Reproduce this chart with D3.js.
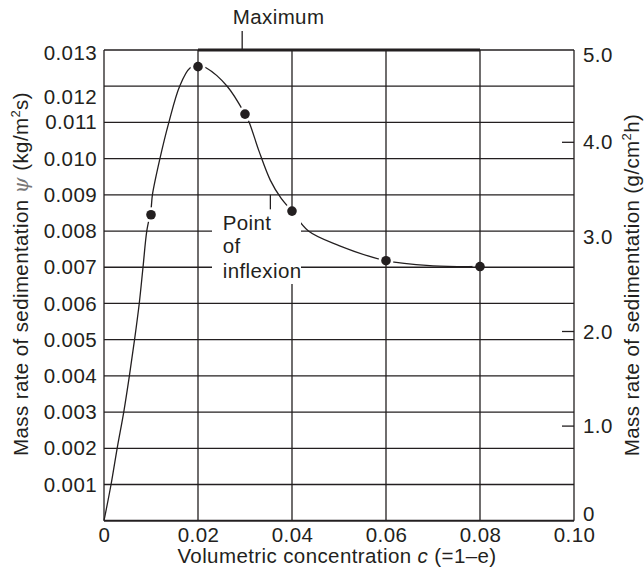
<!DOCTYPE html>
<html>
<head>
<meta charset="utf-8">
<script src="https://cdn.jsdelivr.net/npm/d3@7"></script>
<style>
  body { margin: 0; background: #fff; }
  svg { display: block; font-family: "Liberation Sans", Arial, Helvetica, sans-serif; }
  svg text { fill: #231f20; letter-spacing: 0.4px; }
</style>
</head>
<body>
<div id="chart"></div>
<script>
// measured points (dots)
var sampleC = [0.01, 0.02, 0.03, 0.04, 0.06, 0.08],
    samplePsi = [0.00845, 0.01254, 0.01123, 0.00855, 0.00718, 0.00702];

// the drawn curve
var curveC = [0, 0.0015, 0.0028, 0.0042, 0.0054, 0.0065, 0.0075, 0.0083, 0.0091, 0.0100,
              0.0103, 0.0119, 0.0138, 0.0161, 0.0183, 0.0202, 0.0217, 0.0262, 0.0300, 0.0309,
              0.0330, 0.0354, 0.0377, 0.0400, 0.0435, 0.0500, 0.0600, 0.0700, 0.0800],
    curvePsi = [0, 0.001, 0.002, 0.003, 0.004, 0.005, 0.006, 0.007, 0.008, 0.0086,
                0.009, 0.010, 0.011, 0.012, 0.0125, 0.01257, 0.01251, 0.0120, 0.01123, 0.0110,
                0.0102, 0.0094, 0.0089, 0.00855, 0.0080, 0.0076, 0.00718, 0.00704, 0.00702];

var xTicks = [0, 0.02, 0.04, 0.06, 0.08, 0.10],
    xTickLabels = ["0", "0.02", "0.04", "0.06", "0.08", "0.10"],
    yTicks = [0.001, 0.002, 0.003, 0.004, 0.005, 0.006, 0.007, 0.008, 0.009, 0.010, 0.011, 0.012, 0.013],
    yTickLabels = ["0.001", "0.002", "0.003", "0.004", "0.005", "0.006", "0.007", "0.008", "0.009",
                   "0.010", "0.011", "0.012", "0.013"],
    rightTicks = [0, 1, 2, 3, 4, 5],
    rightTickLabels = ["0", "1.0", "2.0", "3.0", "4.0", "5.0"],
    rightTickMarks = [1, 2, 4];

var INK = "#231f20",
    FONT = 20.5,
    margin = {top: 50, right: 70, bottom: 54, left: 104},
    width = 470,
    height = 470.7;

var x = d3.scaleLinear().domain([0, 0.10]).range([0, width]),
    y = d3.scaleLinear().domain([0, 0.013]).range([height, 0]),
    yR = d3.scaleLinear().domain([0, 5]).range([height, height - 473]);

var svg = d3.select("#chart").append("svg")
    .attr("width", 644)
    .attr("height", 575);

var g = svg.append("g")
    .attr("transform", "translate(" + margin.left + "," + margin.top + ")");

// Curve
var line = d3.line()
    .x(function(d) { return x(d[0]); })
    .y(function(d) { return y(d[1]); })
    .curve(d3.curveCatmullRom.alpha(0.5));

g.append("path")
  .datum(d3.zip(curveC, curvePsi))
  .attr("fill", "none")
  .attr("stroke", INK)
  .attr("stroke-width", 1.3)
  .attr("d", line);

// white gaps in the curve around each dot
g.selectAll(".halo")
  .data(d3.zip(sampleC, samplePsi))
  .join("circle")
    .attr("class", "halo")
    .attr("cx", function(d) { return x(d[0]); })
    .attr("cy", function(d) { return y(d[1]); })
    .attr("r", 7.5)
    .attr("fill", "#fff");

// Grid
g.selectAll(".hgrid")
  .data(yTicks)
  .join("line")
    .attr("class", "hgrid")
    .attr("x1", 0).attr("x2", width)
    .attr("y1", function(d) { return y(d); })
    .attr("y2", function(d) { return y(d); })
    .attr("stroke", INK)
    .attr("stroke-width", 1.3);

g.selectAll(".vgrid")
  .data(xTicks)
  .join("line")
    .attr("class", "vgrid")
    .attr("x1", function(d) { return x(d); })
    .attr("x2", function(d) { return x(d); })
    .attr("y1", 0).attr("y2", height)
    .attr("stroke", INK)
    .attr("stroke-width", 1.3);

// bottom border
g.append("line")
  .attr("x1", 0).attr("x2", width)
  .attr("y1", height).attr("y2", height)
  .attr("stroke", INK)
  .attr("stroke-width", 2);

// "Maximum" span on top border
g.append("line")
  .attr("x1", x(0.02)).attr("x2", x(0.08))
  .attr("y1", y(0.013)).attr("y2", y(0.013))
  .attr("stroke", INK)
  .attr("stroke-width", 3);

g.append("line")
  .attr("x1", x(0.0294)).attr("x2", x(0.0294))
  .attr("y1", y(0.013) - 19).attr("y2", y(0.013))
  .attr("stroke", INK)
  .attr("stroke-width", 1.3);

g.append("text")
  .attr("x", x(0.0274))
  .attr("y", y(0.013) - 26)
  .attr("font-size", FONT)
  .text("Maximum");

// Point of inflexion label, white box hides the grid behind it
g.append("rect")
  .attr("x", 108).attr("y", 163)
  .attr("width", 89).attr("height", 71)
  .attr("fill", "#fff");

g.append("line")
  .attr("x1", x(0.0354)).attr("x2", x(0.0354))
  .attr("y1", y(0.009)).attr("y2", y(0.0086))
  .attr("stroke", INK)
  .attr("stroke-width", 1.3);

var inflexion = g.append("text")
  .attr("font-size", FONT);
inflexion.append("tspan").attr("x", 118.7).attr("y", 180).text("Point");
inflexion.append("tspan").attr("x", 118.7).attr("y", 203).text("of");
inflexion.append("tspan").attr("x", 118.7).attr("y", 228).text("inflexion");

// Right-side tick marks
g.selectAll(".rtick")
  .data(rightTickMarks)
  .join("line")
    .attr("class", "rtick")
    .attr("x1", width - 12).attr("x2", width)
    .attr("y1", function(d) { return yR(d); })
    .attr("y2", function(d) { return yR(d); })
    .attr("stroke", INK)
    .attr("stroke-width", 1.3);

// Dots
g.selectAll(".dot")
  .data(d3.zip(sampleC, samplePsi))
  .join("circle")
    .attr("class", "dot")
    .attr("cx", function(d) { return x(d[0]); })
    .attr("cy", function(d) { return y(d[1]); })
    .attr("r", 4.8)
    .attr("fill", INK);

// Axes (labels only)
function styleAxis(a) {
  a.select(".domain").remove();
  a.attr("font-size", FONT).attr("font-family", null);
  a.selectAll(".tick text").attr("fill", INK);
}

g.append("g")
  .attr("transform", "translate(0," + height + ")")
  .call(d3.axisBottom(x).tickValues(xTicks)
    .tickFormat(function(d, i) { return xTickLabels[i]; })
    .tickSize(0).tickPadding(7))
  .call(styleAxis);

g.append("g")
  .call(d3.axisLeft(y).tickValues(yTicks)
    .tickFormat(function(d, i) { return yTickLabels[i]; })
    .tickSize(0).tickPadding(7))
  .call(styleAxis)
  .selectAll(".tick text")
    .attr("y", function(d) {
      if (d === 0.012) return 11;
      if (d === 0.013) return 2.5;
      return 0;
    });

g.append("g")
  .attr("transform", "translate(" + width + ",0)")
  .call(d3.axisRight(yR).tickValues(rightTicks)
    .tickFormat(function(d, i) { return rightTickLabels[i]; })
    .tickSize(0).tickPadding(9))
  .call(styleAxis)
  .selectAll(".tick text")
    .attr("y", function(d) {
      if (d === 5) return 7;
      if (d === 0) return -7;
      return 0;
    });

// Axis titles
var xt = svg.append("text")
  .attr("x", 337)
  .attr("y", 563)
  .attr("text-anchor", "middle")
  .attr("font-size", FONT);
xt.append("tspan").text("Volumetric concentration ");
xt.append("tspan").attr("font-style", "italic").text("c");
xt.append("tspan").text(" (=1\u2013e)");

var lt = svg.append("text")
  .attr("transform", "translate(28,274) rotate(-90)")
  .attr("text-anchor", "middle")
  .attr("font-size", FONT);
lt.append("tspan").text("Mass rate of sedimentation ");
lt.append("tspan")
  .attr("font-family", "DejaVu Serif, serif")
  .attr("font-style", "italic")
  .style("fill", "#777")
  .text("\u03c8");
lt.append("tspan").text(" (kg/m");
lt.append("tspan").attr("font-size", 13).attr("dy", -8).text("2");
lt.append("tspan").attr("dy", 8).text("s)");

var rt = svg.append("text")
  .attr("transform", "translate(639,285) rotate(-90)")
  .attr("text-anchor", "middle")
  .attr("font-size", FONT);
rt.append("tspan").text("Mass rate of sedimentation (g/cm");
rt.append("tspan").attr("font-size", 13).attr("dy", -8).text("2");
rt.append("tspan").attr("dy", 8).text("h)");
</script>
</body>
</html>
